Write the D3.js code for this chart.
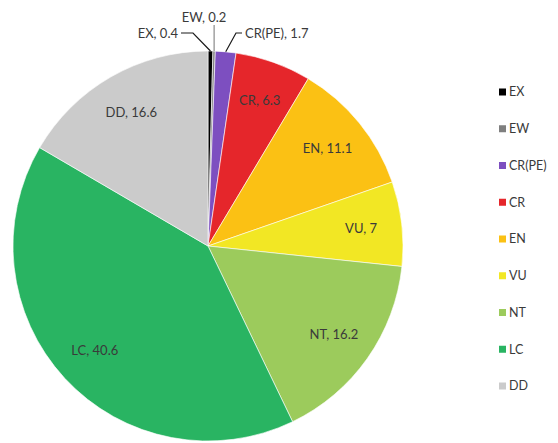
<!DOCTYPE html>
<html><head><meta charset="utf-8">
<script src="https://cdn.jsdelivr.net/npm/d3@7"></script>
<style>body{margin:0;background:#fff}svg{display:block}</style>
</head><body>
<svg id="c" width="558" height="443"></svg>
<script>
const categories = ["EX","EW","CR(PE)","CR","EN","VU","NT","LC","DD"];
const values = [0.4,0.2,1.7,6.3,11.1,7,16.2,40.6,16.6];
const colors = ["#000000","#7f7f7f","#7d4fc0","#e5262b","#fbc114","#f2e724","#9ccb5c","#29b462","#cbcbcb"];

const svg = d3.select("#c");
const font = "Lato, 'Open Sans', sans-serif";
const cx = 208, cy = 246, R = 195;
const data = categories.map((c,i)=>({cat:c, val:values[i], col:colors[i]}));
const pie = d3.pie().value(d=>d.val).sort(null);
const arcs = pie(data);
const arc = d3.arc().innerRadius(0).outerRadius(R);
const labelArc = d3.arc().innerRadius(R*0.79).outerRadius(R*0.79);
const edgeArc = d3.arc().innerRadius(R).outerRadius(R);

const g = svg.append("g").attr("transform",`translate(${cx},${cy})`);
g.selectAll("path.s").data(arcs).join("path").attr("class","s")
  .attr("d",arc).attr("fill",d=>d.data.col)
  .attr("stroke","#fff").attr("stroke-width",0.6);

// inside labels for large slices
g.selectAll("text.in").data(arcs.filter(d=>d.data.val>5)).join("text").attr("class","in")
  .attr("transform",d=>`translate(${labelArc.centroid(d)})`)
  .attr("text-anchor","middle").attr("dy","0.35em")
  .attr("font-family",font).attr("font-size",13).attr("fill","#3a3a3a")
  .text(d=>`${d.data.cat}, ${d.data.val}`);

// outside labels for small slices
const small = arcs.filter(d=>d.data.val<5);
const outCfg = {
  "EX":   {tx:-30, ty:-213, anchor:"end",   elbow:[-15,-213]},
  "EW":   {tx:-4,  ty:-229, anchor:"middle", elbow:null},
  "CR(PE)":{tx:37, ty:-213, anchor:"start", elbow:[28,-213]}
};
small.forEach(d=>{
  const cfg = outCfg[d.data.cat];
  const p = edgeArc.centroid(d);
  const lc = d.data.cat==="EW" ? "#8a8a8a" : "#1a1a1a";
  if (cfg.elbow) {
    g.append("polyline")
      .attr("points",[[p[0],p[1]],cfg.elbow,[cfg.anchor==="end"? cfg.tx+3 : cfg.tx-3, cfg.elbow[1]]].map(q=>q.join(",")).join(" "))
      .attr("fill","none").attr("stroke",lc).attr("stroke-width",1.2);
  } else {
    g.append("line").attr("x1",p[0]).attr("y1",p[1]).attr("x2",p[0]).attr("y2",cfg.ty+8)
      .attr("stroke",lc).attr("stroke-width",1.2);
  }
  g.append("text").attr("x",cfg.tx).attr("y",cfg.ty).attr("dy","0.35em")
    .attr("text-anchor",cfg.anchor)
    .attr("font-family",font).attr("font-size",13).attr("fill","#3a3a3a")
    .text(`${d.data.cat}, ${d.data.val}`);
});

// legend
const leg = svg.append("g").attr("transform","translate(499,92)");
const ly = d3.scalePoint().domain(categories).range([0,294]);
const items = leg.selectAll("g").data(data).join("g").attr("transform",d=>`translate(0,${ly(d.cat)})`);
items.append("rect").attr("x",0).attr("y",-3.5).attr("width",7).attr("height",7).attr("fill",d=>d.col);
items.append("text").attr("x",10).attr("dy","0.35em")
  .attr("font-family",font).attr("font-size",12.5).attr("fill","#3a3a3a").text(d=>d.cat);
</script>
</body></html>
